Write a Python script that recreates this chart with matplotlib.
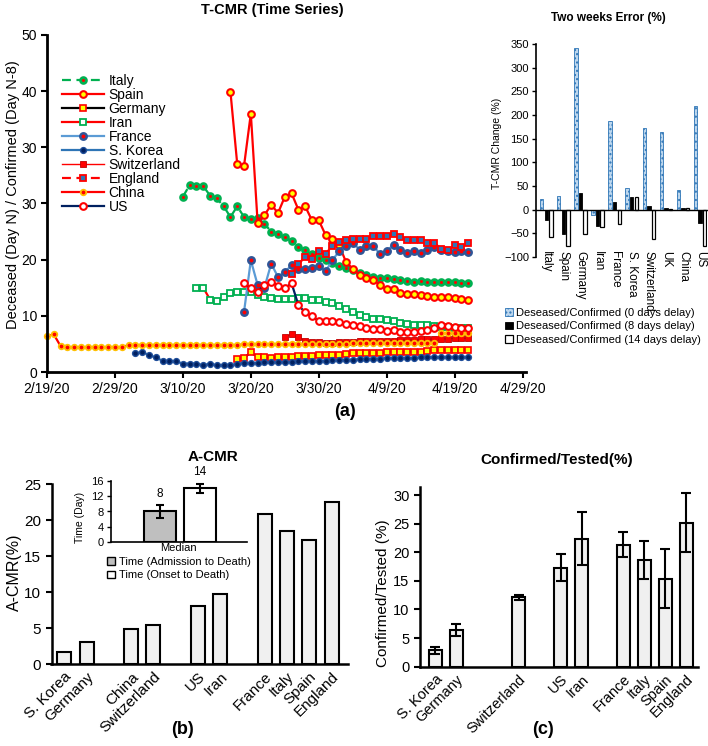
import numpy as np
import matplotlib
matplotlib.use('Agg')
import matplotlib.pyplot as plt
from matplotlib.patches import Patch

plt.rcParams['font.family'] = ['Liberation Sans', 'DejaVu Sans']

W, H = 708, 746
def fx(px):
    return px / W
def fy(py):
    return 1 - py / H

# ------------------------------------------------------------------ data (a)
date_labels = ['2/19/20', '2/29/20', '3/10/20', '3/20/20', '3/30/20', '4/9/20', '4/19/20', '4/29/20']
ytick_labels_a = ['0', '10', '20', '30', '30', '40', '50']

italy_start = 20
italy = [31.2, 33.3, 33.1, 33.1, 31.4, 30.9, 29.5, 27.6, 29.5, 27.6, 27.2, 27.4, 26.4, 25.0, 24.6,
         24.0, 23.3, 22.3, 21.7, 21.0, 20.3, 19.9, 19.4, 18.9, 18.5, 18.1, 17.7, 17.3, 16.9, 16.8,
         16.7, 16.5, 16.4, 16.2, 16.1, 16.2, 16.1, 16.1, 16.1, 16.0, 16.0, 15.9, 15.9]
spain_start = 27
spain = [49.9, 37.0, 36.7, 46.0, 26.6, 27.9, 29.8, 28.3, 31.2, 31.8, 28.9, 29.5, 27.0, 27.0, 24.4,
         23.7, 22.6, 19.6, 18.4, 17.3, 16.8, 16.4, 15.5, 14.7, 14.7, 14.1, 13.9, 13.9, 13.7, 13.5,
         13.4, 13.3, 13.3, 13.1, 13.0, 12.9]
germany_start = 28
germany = [2.3, 2.5, 3.5, 2.7, 2.6, 2.5, 2.6, 2.6, 2.7, 2.8, 2.9, 2.9, 3.0, 3.0, 3.1, 3.1, 3.2, 3.3,
           3.3, 3.4, 3.4, 3.4, 3.5, 3.5, 3.5, 3.6, 3.6, 3.6, 3.7, 3.9, 3.9, 3.9, 3.9, 4.0, 4.0]
iran_start = 22
iran = [15.0, 15.0, 12.9, 12.6, 13.4, 14.0, 14.3, 14.3, 14.3, 13.7, 13.4, 13.1, 13.0, 13.0, 13.0,
        13.1, 13.1, 12.9, 12.8, 12.5, 12.2, 11.7, 11.2, 10.6, 10.1, 9.8, 9.5, 9.4, 9.3, 9.0, 8.8,
        8.5, 8.4, 8.4, 8.3, 8.2, 8.1, 8.0, 7.9, 7.9, 7.8]
france_start = 29
france = [10.7, 19.9, 15.5, 15.0, 19.3, 16.9, 17.8, 19.0, 18.4, 18.4, 18.5, 18.9, 17.9, 19.9, 21.5,
          22.4, 23.0, 21.8, 22.4, 22.5, 21.0, 21.6, 22.6, 21.8, 21.2, 21.6, 21.2, 21.8, 22.2, 21.8,
          21.6, 21.4, 21.6, 21.4]
korea_start = 13
korea = [3.3, 3.6, 3.0, 2.6, 2.0, 1.9, 1.9, 1.5, 1.5, 1.5, 1.2, 1.5, 1.2, 1.2, 1.2, 1.5, 1.6, 1.6,
         1.6, 1.7, 1.7, 1.7, 1.8, 1.8, 1.9, 1.9, 2.0, 2.0, 2.0, 2.1, 2.1, 2.2, 2.2, 2.3, 2.3, 2.4,
         2.4, 2.5, 2.5, 2.5, 2.5, 2.5, 2.6, 2.6, 2.6, 2.6, 2.6, 2.6, 2.6, 2.6]
swiss_start = 35
swiss = [6.3, 6.7, 6.2, 5.6, 5.3, 5.3, 5.2, 5.2, 5.3, 5.4, 5.4, 5.5, 5.5, 5.5, 5.6, 5.6, 5.6, 5.7,
         5.7, 5.7, 5.8, 5.8, 5.9, 5.9, 5.9, 6.0, 6.0, 6.0]
england_start = 36
england = [17.5, 19.2, 20.5, 20.2, 21.5, 21.0, 22.5, 23.2, 23.5, 23.6, 23.7, 23.7, 24.2, 24.2, 24.2,
           24.6, 24.0, 23.5, 23.5, 23.5, 23.0, 23.0, 21.9, 21.8, 22.6, 22.3, 22.9]
china_start = 0
china = [6.4, 6.7, 4.6, 4.4, 4.4, 4.4, 4.4, 4.4, 4.4, 4.4, 4.4, 4.4,
         4.8, 4.8, 4.8, 4.8, 4.8, 4.8, 4.8, 4.8, 4.8, 4.8, 4.8, 4.8, 4.8, 4.8, 4.8, 4.8, 4.8,
         4.9, 4.9, 4.9, 4.9, 4.9, 4.9,
         5.0, 5.0, 5.0, 5.0, 5.0, 5.0, 5.0, 5.0, 5.0, 5.0,
         5.1, 5.1, 5.1, 5.1, 5.1, 5.1, 5.1, 5.1, 5.1, 5.1, 5.1, 5.1, 5.1,
         6.9, 6.9, 6.9, 6.9, 6.9]
us_start = 29
us = [15.8, 14.9, 14.3, 15.5, 16.1, 15.4, 14.9, 15.8, 11.9, 10.6, 9.9, 9.1, 9.1, 9.1, 8.9, 8.5, 8.4,
      8.2, 7.9, 7.6, 7.7, 7.3, 7.4, 7.2, 7.2, 7.2, 7.3, 7.4, 7.8, 8.3, 8.2, 8.0, 7.9, 7.8]

# two weeks error
err_countries = ['Italy', 'Spain', 'Germany', 'Iran', 'France', 'S. Korea', 'Switzerland', 'UK', 'China', 'US']
err_0d = [22, 28, 341, -11, 188, 45, 172, 165, 41, 220]
err_8d = [-21, -51, 36, -35, 17, 26, 7, 3, 3, -28]
err_14d = [-57, -77, -51, -37, -30, 26, -63, 1, 3, -77]
err_labels = ['Deseased/Confirmed (0 days delay)', 'Deseased/Confirmed (8 days delay)',
              'Deseased/Confirmed (14 days delay)']

# ------------------------------------------------------------------ data (b)
acmr_countries = ['S. Korea', 'Germany', 'China', 'Switzerland', 'US', 'Iran', 'France', 'Italy', 'Spain', 'England']
acmr_groups = [2, 2, 2, 4]
acmr = [1.7, 3.0, 4.8, 5.4, 8.0, 9.7, 20.8, 18.5, 17.2, 22.5]
median_names = ['Time (Admission to Death)', 'Time (Onset to Death)']
median_days = [8, 14]
median_err = [1.6, 1.25]
median_text = ['8', '14']

# ------------------------------------------------------------------ data (c)
ct_countries = ['S. Korea', 'Germany', 'Switzerland', 'US', 'Iran', 'France', 'Italy', 'Spain', 'England']
ct = [2.9, 6.4, 12.1, 17.3, 22.4, 21.3, 18.6, 15.4, 25.2]
ct_err = [0.6, 1.1, 0.5, 2.4, 4.7, 2.2, 3.3, 5.2, 5.2]

# ------------------------------------------------------------------ figure
fig = plt.figure(figsize=(7.08, 7.46), dpi=100)

# ---------------- (a) main time series
ax = fig.add_axes([fx(47), fy(372), (526 - 47) / W, (372 - 35) / H])
RED, GREEN = '#FF0000', '#00B050'
series = [
    ('Italy', italy_start, italy, dict(color=GREEN, ls=(0, (4, 2.5)), marker='o', mfc=RED, mec=GREEN, ms=4.2, mew=2.0)),
    ('Spain', spain_start, spain, dict(color=RED, marker='o', mfc='#FFFF00', mec=RED, ms=4.8, mew=1.5)),
    ('Germany', germany_start, germany, dict(color='black', marker='s', mfc='#FFFF00', mec=RED, ms=4.2, mew=1.2)),
    ('Iran', iran_start, iran, dict(color=RED, marker='s', mfc='white', mec=GREEN, ms=4.6, mew=1.3)),
    ('France', france_start, france, dict(color='#5B9BD5', marker='o', mfc=RED, mec='#2F5597', ms=4.6, mew=1.8)),
    ('S. Korea', korea_start, korea, dict(color='#2E75B6', marker='o', mfc='#002060', mec='#1F4E9A', ms=4.2, mew=1.0)),
    ('Switzerland', swiss_start, swiss, dict(color=RED, lw=1.0, marker='s', mfc=RED, mec='#C00000', ms=5.0, mew=0.6)),
    ('England', england_start, england, dict(color=RED, ls=(0, (4, 2.5)), marker='s', mfc='#2E75B6', mec=RED, ms=4.6, mew=1.3)),
    ('China', china_start, china, dict(color=RED, marker='o', mfc=RED, mec='#FFC000', ms=4.0, mew=1.3)),
    ('US', us_start, us, dict(color='#002060', marker='o', mfc='white', mec=RED, ms=4.8, mew=1.5)),
]
for name, start, vals, st in series:
    kw = dict(lw=1.6)
    kw.update(st)
    ax.plot(np.arange(start, start + len(vals)), vals, label=name, clip_on=False, **kw)

ax.set_xlim(0, 70.5)
ax.set_ylim(0, 60)
ax.set_xticks(np.arange(0, 71, 10))
ax.set_xticklabels(date_labels, fontsize=10)
ax.set_yticks(np.arange(0, 61, 10))
ax.set_yticklabels(ytick_labels_a, fontsize=10)
for s in ['top', 'right']:
    ax.spines[s].set_visible(False)
for s in ['left', 'bottom']:
    ax.spines[s].set_linewidth(2.0)
ax.tick_params(direction='out', length=4, width=1.5, pad=3)
ax.legend(loc='upper left', bbox_to_anchor=(fx(62), fy(74)), bbox_transform=fig.transFigure,
          frameon=False, fontsize=10, handlelength=3.0, labelspacing=0.0, borderaxespad=0,
          borderpad=0, handletextpad=0.35)
fig.text(fx(13), fy(195), 'Deceased (Day N) / Confirmed (Day N-8)', rotation=90,
         ha='center', va='center', fontsize=10.5)
fig.text(fx(272), fy(10), 'T-CMR (Time Series)', ha='center', va='center', fontsize=10.5, fontweight='bold')
fig.text(fx(345), fy(411), '(a)', ha='center', va='center', fontsize=13, fontweight='bold')

# ---------------- (a) inset: two weeks error
ax2 = fig.add_axes([fx(536), fy(257), 171 / W, (257 - 44) / H])
ax2.set_facecolor('none')
xg = np.arange(len(err_countries))
bw = 0.2
b0 = ax2.bar(xg - 0.27, err_0d, bw, color='#BDD7EE', edgecolor='#2E75B6', hatch='....', linewidth=0.6)
b8 = ax2.bar(xg, err_8d, bw, color='black', edgecolor='black', linewidth=0.6)
b14 = ax2.bar(xg + 0.27, err_14d, bw, color='white', edgecolor='black', linewidth=0.9)
ax2.set_xlim(-0.6, 9.4)
ax2.set_ylim(-100, 350)
ax2.set_yticks(np.arange(-100, 351, 50))
ax2.tick_params(axis='y', labelsize=8, length=3, width=1.0, pad=2)
ax2.set_xticks([])
for s in ['top', 'right']:
    ax2.spines[s].set_visible(False)
ax2.spines['bottom'].set_position(('data', 0))
ax2.spines['bottom'].set_linewidth(1.0)
ax2.spines['left'].set_linewidth(1.2)
for i, c in enumerate(err_countries):
    ax2.text(i, -88, c, rotation=-90, ha='center', va='top', fontsize=8.5)
fig.text(fx(497), fy(143), 'T-CMR Change (%)', rotation=90, ha='center', va='center', fontsize=7.5)
fig.text(fx(608), fy(18), 'Two weeks Error (%)', ha='center', va='center', fontsize=8.5, fontweight='bold')
fig.legend([b0, b8, b14], err_labels, loc='upper left', bbox_to_anchor=(fx(505), fy(308)),
           frameon=False, fontsize=8, handlelength=0.7, handleheight=0.7, labelspacing=0.3,
           handletextpad=0.25, borderpad=0, borderaxespad=0)

# ---------------- (b) A-CMR
slots = []
cur = 0
for g in acmr_groups:
    slots.extend(range(cur, cur + g))
    cur += g + 1
slot_of = dict(zip(acmr_countries, slots))

axb = fig.add_axes([fx(51.5), fy(664), (348 - 51.5) / W, (664 - 484) / H])
axb.bar(slots, acmr, width=0.63, color='#F0F0F0', edgecolor='black', linewidth=1.5)
axb.set_xlim(-0.58, 12.74)
axb.set_ylim(0, 25)
axb.set_yticks(np.arange(0, 26, 5))
axb.set_xticks(slots)
axb.set_xticklabels(acmr_countries, rotation=45, ha='right', rotation_mode='anchor', fontsize=11)
axb.tick_params(axis='x', length=0, pad=4)
axb.tick_params(axis='y', labelsize=11, length=4, width=1.5)
for s in ['top', 'right']:
    axb.spines[s].set_visible(False)
for s in ['left', 'bottom']:
    axb.spines[s].set_linewidth(1.8)
fig.text(fx(14), fy(572), 'A-CMR(%)', rotation=90, ha='center', va='center', fontsize=11.5)
fig.text(fx(213), fy(457), 'A-CMR', ha='center', va='center', fontsize=11, fontweight='bold')
fig.text(fx(183), fy(730), '(b)', ha='center', va='center', fontsize=13, fontweight='bold')

# inset in (b)
axi = fig.add_axes([fx(110.7), fy(542.3), (247 - 110.7) / W, 61.6 / H])
mcols = ['#BFBFBF', 'white']
axi.bar(range(2), median_days, width=0.8, color=mcols, edgecolor='black', linewidth=1.5,
        yerr=median_err, error_kw=dict(elinewidth=1.5, capsize=3, capthick=1.5, ecolor='black'))
for i, (v, e, t) in enumerate(zip(median_days, median_err, median_text)):
    axi.annotate(t, (i, v + e), xytext=(0, 4), textcoords='offset points', ha='center', va='bottom', fontsize=8.5)
axi.set_xlim(-1.23, 2.17)
axi.set_ylim(0, 16)
axi.set_yticks([0, 4, 8, 12, 16])
axi.set_xticks([])
axi.tick_params(axis='y', labelsize=8, length=3, width=1.0, pad=2)
for s in ['top', 'right']:
    axi.spines[s].set_visible(False)
for s in ['left', 'bottom']:
    axi.spines[s].set_linewidth(1.2)
axi.set_xlabel('Median', fontsize=8, labelpad=0.5)
fig.text(fx(80), fy(517), 'Time (Day)', rotation=90, ha='center', va='center', fontsize=7.5)
fig.legend([Patch(fc=mcols[0], ec='black', lw=1), Patch(fc=mcols[1], ec='black', lw=1)], median_names,
           loc='upper left', bbox_to_anchor=(fx(107), fy(557)), frameon=False, fontsize=8,
           handlelength=0.7, handleheight=0.7, labelspacing=0.3, handletextpad=0.4,
           borderpad=0, borderaxespad=0)

# ---------------- (c) Confirmed/Tested
ct_slots = [slot_of[c] for c in ct_countries]
axc = fig.add_axes([fx(420), fy(666.7), (698 - 420) / W, 180.2 / H])
axc.bar(ct_slots, ct, width=0.62, color='#F0F0F0', edgecolor='black', linewidth=1.5,
        yerr=ct_err, error_kw=dict(elinewidth=1.5, capsize=3.6, capthick=1.5, ecolor='black'))
axc.set_xlim(-0.73, 12.57)
axc.set_ylim(0, 31.5)
axc.set_yticks(np.arange(0, 31, 5))
axc.set_xticks(ct_slots)
axc.set_xticklabels(ct_countries, rotation=45, ha='right', rotation_mode='anchor', fontsize=10.5)
axc.tick_params(axis='x', length=0, pad=4)
axc.tick_params(axis='y', labelsize=10.5, length=4, width=1.5)
for s in ['top', 'right']:
    axc.spines[s].set_visible(False)
for s in ['left', 'bottom']:
    axc.spines[s].set_linewidth(1.8)
fig.text(fx(383), fy(593), 'Confirmed/Tested (%)', rotation=90, ha='center', va='center', fontsize=11)
fig.text(fx(557), fy(460), 'Confirmed/Tested(%)', ha='center', va='center', fontsize=11, fontweight='bold')
fig.text(fx(543), fy(730), '(c)', ha='center', va='center', fontsize=13, fontweight='bold')

fig.savefig('out.png', dpi=100)
